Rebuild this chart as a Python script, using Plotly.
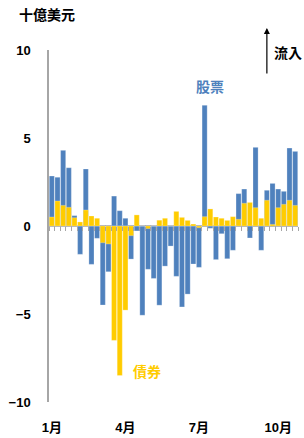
import plotly.graph_objects as go

weeks = list(range(44))
stocks = [2.84, 2.77, 4.30, 3.31, 0.59, -1.61, 3.24, -2.18, -0.70, -4.49,
          -2.60, 1.70, 0.87, 0.44, -1.88, -0.28, -5.07, -2.46, -2.98, -4.50,
          -2.28, -1.14, -2.86, -4.60, -3.87, -2.16, -2.35, 6.86, -0.13, -1.91,
          -0.44, -1.86, -1.38, 1.84, 2.10, -0.68, 4.47, -1.38, 2.03, 2.42,
          2.10, 1.97, 4.43, 4.24]
bonds = [0.51, 1.42, 1.17, 1.06, 0.47, 0.23, 0.91, 0.57, 0.44, -0.95,
         -1.02, -6.50, -8.50, -4.78, -0.55, 0.63, 0.00, -0.15, 0.00, 0.33,
         0.44, 0.00, 0.83, 0.49, 0.32, 0.11, -0.10, 0.53, 0.97, 0.51,
         0.44, 0.32, 0.53, 0.38, 1.29, 1.34, 1.04, 0.44, 1.46, 0.09,
         1.04, 1.23, 1.46, 1.17]
tick_pos = [0, 13, 26, 40]
tick_text = ["1月", "4月", "7月", "10月"]
y_ticks = [10, 5, 0, -5, -10]

BLUE = "#4F81BD"
YELLOW = "#FFCC00"
FONT = "Arial, Liberation Sans, Noto Sans CJK TC, sans-serif"

fig = go.Figure()
fig.add_trace(go.Bar(x=weeks, y=stocks, marker_color=BLUE, width=0.9,
                     marker_line=dict(color="rgba(255,255,255,0.5)", width=0.5),
                     name="股票"))
fig.add_trace(go.Bar(x=weeks, y=bonds, marker_color=YELLOW, width=0.9,
                     marker_line=dict(color="rgba(255,255,255,0.5)", width=0.5),
                     name="債券"))
# invisible helper trace for the zero-line category tick axis
fig.add_trace(go.Scatter(x=[weeks[0], weeks[-1]], y=[0, 0], xaxis="x2",
                         mode="lines", line=dict(width=0, color="rgba(0,0,0,0)"),
                         hoverinfo="skip", showlegend=False))

xr = [-0.5, 43.5]
fig.update_layout(
    template="none",
    width=304, height=438,
    margin=dict(l=49, r=6, t=50, b=36, autoexpand=False),
    plot_bgcolor="white", paper_bgcolor="white",
    barmode="overlay", bargap=0.1,
    showlegend=False,
    font=dict(family=FONT, color="black", size=13),
    xaxis=dict(range=xr, tickmode="array", tickvals=tick_pos, ticktext=tick_text,
               showline=False, showgrid=False, zeroline=False, automargin=False,
               ticks="outside", ticklen=13, tickcolor="rgba(0,0,0,0)",
               tickfont=dict(size=13, weight="bold")),
    xaxis2=dict(range=xr, overlaying="x", anchor="free", position=0.5,
                side="bottom", showline=False, automargin=False,
                tickmode="linear", tick0=0.5, dtick=1, ticks="outside",
                ticklen=4, tickcolor="#A6A6A6", tickwidth=1,
                showticklabels=False, showgrid=False, zeroline=False),
    yaxis=dict(range=[-10, 10], tickvals=y_ticks, showgrid=False,
               zeroline=True, zerolinecolor="#A6A6A6", zerolinewidth=1.5,
               showline=True, linecolor="#A6A6A6", linewidth=1.5, automargin=False,
               ticks="outside", ticklen=14, tickcolor="rgba(0,0,0,0)",
               tickfont=dict(size=13, weight="bold")),
)

fig.add_annotation(text="十億美元", xref="paper", yref="paper",
                   x=-0.01, y=1.099, xanchor="center", yanchor="middle",
                   showarrow=False,
                   font=dict(size=14, color="black", weight="bold"))
fig.add_annotation(text="", xref="paper", yref="paper", x=0.875, y=1.0625,
                   showarrow=True, axref="pixel", ayref="pixel", ax=0, ay=47,
                   arrowhead=2, arrowsize=1, arrowwidth=1.2, arrowcolor="black")
fig.add_annotation(text="流入", xref="paper", yref="paper", x=0.958, y=0.991,
                   xanchor="center", yanchor="middle", showarrow=False,
                   font=dict(size=14, color="black", weight="bold"))
fig.add_annotation(text="股票", x=27.9, y=7.9, xanchor="center", yanchor="middle",
                   showarrow=False, font=dict(size=14, color=BLUE, weight="bold"))
fig.add_annotation(text="債券", x=16.9, y=-8.3, xanchor="center", yanchor="middle",
                   showarrow=False, font=dict(size=14, color=YELLOW, weight="bold"))

fig.write_html("out.html", config={"displayModeBar": False},
               post_script="document.body.style.margin='0';document.body.style.overflow='hidden';")
